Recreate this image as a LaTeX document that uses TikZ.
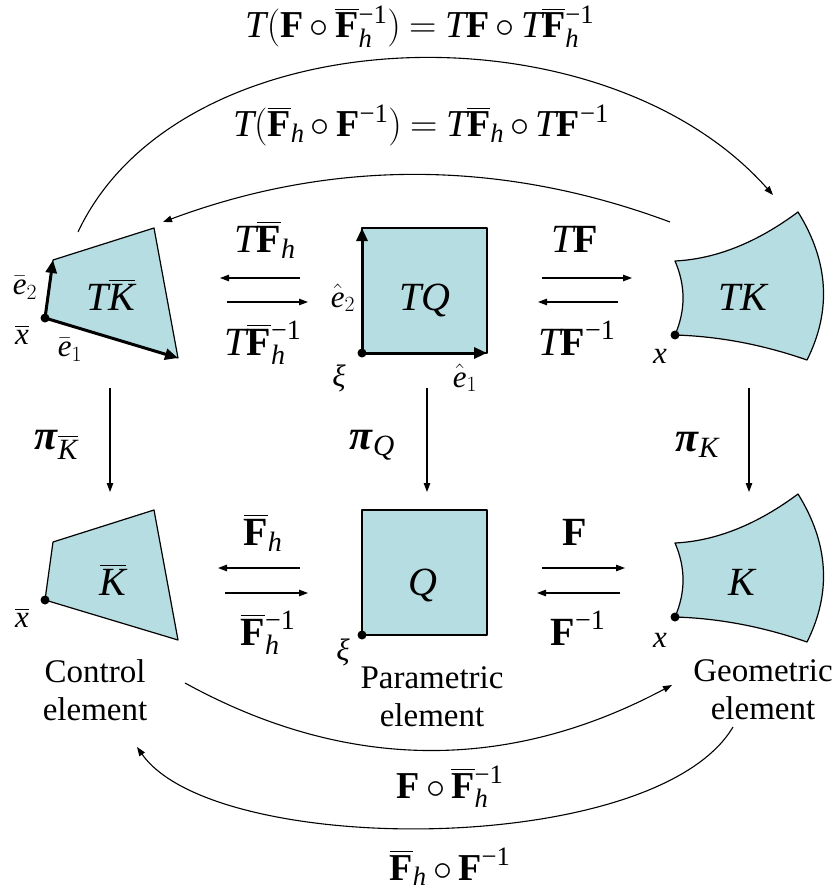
\RequirePackage{fix-cm}
\documentclass[tikz,border=0pt]{standalone}
\usepackage{amsmath}
\usepackage{fontspec}
\setmainfont{Liberation Serif}
\usetikzlibrary{arrows.meta}
\definecolor{elfill}{RGB}{182,221,225}
\newcommand{\BF}{\textbf{F}}
\newcommand{\BFb}{{\smash{\overline{\textbf{F}}}\vphantom{\textbf{F}}}}
\newcommand{\It}[1]{\textit{#1}}
\newcommand{\invone}{\text{−1}}
\newcommand{\tightmath}{\medmuskip=3mu\relax\thickmuskip=4mu\relax}
\tikzset{
  shapeel/.style={draw=black, line width=1.2pt, fill=elfill, line join=round},
  vecarrow/.style={line width=3pt, -{Triangle[length=13pt,width=11pt]}},
  thinarr/.style={line width=1.1pt, -{Triangle[length=9pt,width=6.5pt]}},
  mlab/.style={font=\fontsize{40}{48}\selectfont, inner sep=0pt, anchor=base},
  toplab/.style={font=\fontsize{38}{46}\selectfont, inner sep=0pt, anchor=base},
  slab/.style={font=\fontsize{31}{36}\selectfont, inner sep=0pt},
  tlab/.style={font=\fontsize{33}{38}\selectfont, align=center, inner sep=0pt},
  cornerdot/.style={circle, fill=black, inner sep=0pt, minimum size=9pt}
}
\begin{document}
\begin{tikzpicture}[x=1pt,y=-1pt]
\useasboundingbox (0,0) rectangle (834,896);

% ---------- top row ----------
\draw[shapeel] (45,318) -- (53,260) -- (154,228) -- (178,358) -- cycle;
\coordinate (xb1) at (45,318);
\coordinate (e2t) at (53,260);
\coordinate (e1t) at (178,358);
\draw[vecarrow] (xb1) -- (e2t);
\draw[vecarrow] (xb1) -- (e1t);
\node[cornerdot] (dTKb) at (xb1) {};
\node[mlab] (lTKb) at (111,310) {$\It{T}\overline{\It{K}}$};
\node[slab] (le2b) at (25,288) {$\bar{\It{e}}_{2}$};
\node[slab] (lxb1) at (22,335) {$\overline{\It{x}}$};
\node[slab] (le1b) at (70,350) {$\bar{\It{e}}_{1}$};

\draw[shapeel] (362,228) rectangle (487,353);
\coordinate (xi1) at (362,353);
\coordinate (h2t) at (362,228);
\coordinate (h1t) at (487,353);
\draw[vecarrow] (xi1) -- (h2t);
\draw[vecarrow] (xi1) -- (h1t);
\node[cornerdot] (dTQ) at (xi1) {};
\node[mlab] (lTQ) at (425,310) {\It{TQ}};
\node[slab] (le2h) at (343,298) {$\hat{\It{e}}_{2}$};
\node[slab] (lxi1) at (339,378) {\It{ξ}};
\node[slab] (le1h) at (465,378) {$\hat{\It{e}}_{1}$};

\draw[shapeel] (675,261) .. controls (715.7,259) and (756.7,242.7) .. (798,212)
  .. controls (828.7,261.3) and (831.7,310.7) .. (807,360)
  .. controls (763,344.7) and (719,336.3) .. (675,335)
  .. controls (685.7,310.3) and (685.7,285.7) .. cycle;
\node[cornerdot] (dTK) at (675,335) {};
\node[mlab] (lTK) at (744,310) {\It{TK}};
\node[slab] (lx1) at (660,356) {\It{x}};

% horizontal arrows top
\coordinate (a1s) at (300,278); \coordinate (a1e) at (220,278);
\coordinate (a2s) at (227,302); \coordinate (a2e) at (308,302);
\coordinate (a3s) at (542,278); \coordinate (a3e) at (632,278);
\coordinate (a4s) at (618,302); \coordinate (a4e) at (538,302);
\draw[thinarr] (a1s) -- (a1e);
\draw[thinarr] (a2s) -- (a2e);
\draw[thinarr] (a3s) -- (a3e);
\draw[thinarr] (a4s) -- (a4e);
\node[mlab] (lTFb) at (265,252) {$\It{T}\BFb_{\It{h}}$};
\node[mlab] (lTFbi) at (263,355) {$\It{T}\BFb_{\It{h}}^{\invone}$};
\node[mlab] (lTF) at (575,252) {$\It{T}\BF$};
\node[mlab] (lTFi) at (577,355) {$\It{T}\BF^{\invone}$};

% ---------- vertical projections ----------
\coordinate (v1s) at (110,388); \coordinate (v1e) at (110,492);
\coordinate (v2s) at (427,388); \coordinate (v2e) at (427,492);
\coordinate (v3s) at (749,388); \coordinate (v3e) at (749,492);
\draw[thinarr] (v1s) -- (v1e);
\draw[thinarr] (v2s) -- (v2e);
\draw[thinarr] (v3s) -- (v3e);
\node[font=\fontsize{42}{48}\selectfont, inner sep=0pt] (lp1) at (56,445) {\textbf{\textit{π}}$_{\overline{\It{K}}}$};
\node[font=\fontsize{42}{48}\selectfont, inner sep=0pt] (lp2) at (372,445) {\textbf{\textit{π}}$_{\It{Q}}$};
\node[font=\fontsize{42}{48}\selectfont, inner sep=0pt] (lp3) at (697,445) {\textbf{\textit{π}}$_{\It{K}}$};

% ---------- bottom row ----------
\draw[shapeel] (45,600) -- (53,542) -- (154,510) -- (178,640) -- cycle;
\node[cornerdot] (dKb) at (45,600) {};
\node[mlab] (lKb) at (113,595) {$\overline{\It{K}}$};
\node[slab] (lxb2) at (22,618) {$\overline{\It{x}}$};

\draw[shapeel] (362,510) rectangle (487,635);
\node[cornerdot] (dQ) at (362,635) {};
\node[mlab] (lQ) at (423,595) {\It{Q}};
\node[slab] (lxi2) at (343,652) {\It{ξ}};

\begin{scope}[shift={(0,282)}]
\draw[shapeel] (675,261) .. controls (715.7,259) and (756.7,242.7) .. (798,212)
  .. controls (828.7,261.3) and (831.7,310.7) .. (807,360)
  .. controls (763,344.7) and (719,336.3) .. (675,335)
  .. controls (685.7,310.3) and (685.7,285.7) .. cycle;
\node[cornerdot] (dK) at (675,335) {};
\end{scope}
\node[mlab] (lK) at (743,595) {\It{K}};
\node[slab] (lx2) at (660,640) {\It{x}};

% horizontal arrows bottom
\coordinate (b1s) at (300,568); \coordinate (b1e) at (218,568);
\coordinate (b2s) at (225,593); \coordinate (b2e) at (308,593);
\coordinate (b3s) at (542,568); \coordinate (b3e) at (625,568);
\coordinate (b4s) at (620,593); \coordinate (b4e) at (537,593);
\draw[thinarr] (b1s) -- (b1e);
\draw[thinarr] (b2s) -- (b2e);
\draw[thinarr] (b3s) -- (b3e);
\draw[thinarr] (b4s) -- (b4e);
\node[mlab] (lFb) at (263,545) {$\BFb_{\It{h}}$};
\node[mlab] (lFbi) at (268,645) {$\BFb_{\It{h}}^{\invone}$};
\node[mlab] (lF) at (575,545) {$\BF$};
\node[mlab] (lFi) at (578,645) {$\BF^{\invone}$};

% element captions
\node[tlab] (cControl) at (95,690) {Control\\element};
\node[tlab] (cParam) at (432,697) {Parametric\\element};
\node[tlab] (cGeom) at (763,690) {Geometric\\element};

% ---------- composite maps ----------
\coordinate (t1s) at (78,232); \coordinate (t1e) at (773,195);
\draw[thinarr] (t1s) .. controls (180,15) and (600,0) .. (t1e);
\node[toplab] (lTop1) at (420,38) {$\tightmath \It{T}(\BF\circ\BFb_{\It{h}}^{\invone})=\It{T}\BF\circ\It{T}\BFb_{\It{h}}^{\invone}$};

\coordinate (t2s) at (670,222); \coordinate (t2e) at (163,222);
\draw[thinarr] (t2s) .. controls (501,159) and (332,159) .. (t2e);
\node[toplab] (lTop2) at (421,137) {$\tightmath \It{T}(\BFb_{\It{h}}\circ\BF^{\invone})=\It{T}\BFb_{\It{h}}\circ\It{T}\BF^{\invone}$};

\coordinate (u1s) at (185,683); \coordinate (u1e) at (672,685);
\draw[thinarr] (u1s) .. controls (347,772) and (509,772) .. (u1e);
\node[toplab] (lBot1) at (450,798) {$\tightmath \BF\circ\BFb_{\It{h}}^{\invone}$};

\coordinate (u2s) at (733,727); \coordinate (u2e) at (137,747);
\draw[thinarr] (u2s) .. controls (655,858) and (215,858) .. (u2e);
\node[toplab] (lBot2) at (450,880) {$\tightmath \BFb_{\It{h}}\circ\BF^{\invone}$};
\end{tikzpicture}
\end{document}
